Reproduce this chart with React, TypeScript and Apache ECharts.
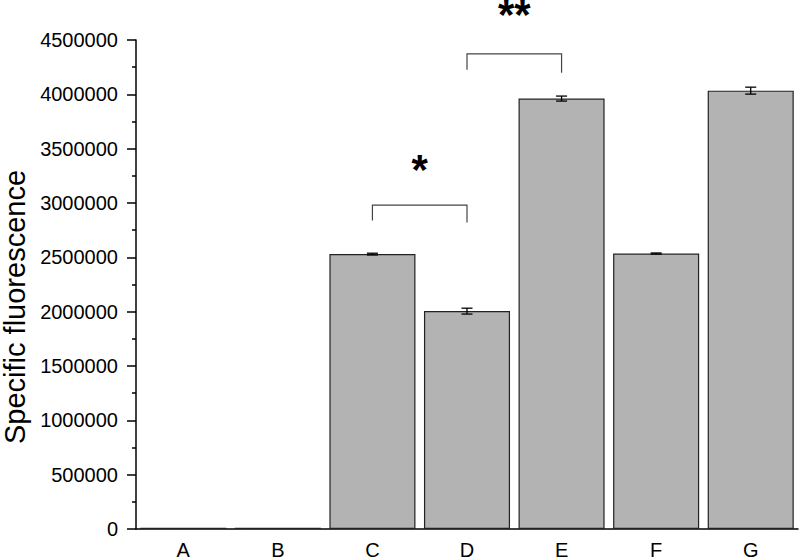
import React, { useEffect, useRef } from "react";
import * as echarts from "echarts";

const categories = ["A", "B", "C", "D", "E", "F", "G"];
const values = [12000, 12000, 2530000, 2005000, 3961000, 2535000, 4034000];
const errors = [0, 0, 8000, 27000, 23000, 5000, 32000];
const yTicksMax = 4500000;
const yInterval = 500000;
// brackets: [leftCategoryIndex, rightCategoryIndex, topValue, leftLegEnd, rightLegEnd]
const brackets = [
  [2, 3, 2980000, 2840000, 2820000],
  [3, 4, 4372000, 4226000, 4199000],
];
// significance labels: [leftCategoryIndex, rightCategoryIndex, value]
const sigPositions = [
  [2, 3, 3304000],
  [3, 4, 4735000],
];
const sigLabels = ["*", "**"];
const yAxisTitle = "Specific fluorescence";

const FONT = "'Liberation Sans', Arial, Helvetica, sans-serif";

export default function App() {
  const ref = useRef<HTMLDivElement>(null);
  useEffect(() => {
    if (!ref.current) return;
    const chart = echarts.init(ref.current, undefined, { renderer: "svg" });
    chart.setOption({
      animation: false,
      backgroundColor: "#fff",
      grid: { left: 136, right: 2, top: 40, bottom: 27, containLabel: false },
      xAxis: {
        type: "category",
        data: categories,
        boundaryGap: true,
        axisLine: { show: true, lineStyle: { color: "#000", width: 1.5 } },
        axisTick: { show: false },
        axisLabel: { fontSize: 20, color: "#000", margin: 11, fontFamily: FONT },
        splitLine: { show: false },
      },
      yAxis: {
        type: "value",
        min: 0,
        max: yTicksMax,
        interval: yInterval,
        axisLine: { show: true, lineStyle: { color: "#000", width: 1.5 } },
        axisTick: { show: true, length: 9, lineStyle: { color: "#000", width: 1.5 } },
        minorTick: { show: true, splitNumber: 2, length: 4, lineStyle: { color: "#000", width: 1.5 } },
        axisLabel: {
          fontSize: 20,
          color: "#000",
          margin: 18,
          fontFamily: FONT,
          formatter: (v: number) => String(v),
        },
        splitLine: { show: false },
        minorSplitLine: { show: false },
      },
      graphic: [
        {
          type: "text",
          x: 15,
          y: 307,
          rotation: Math.PI / 2,
          style: {
            text: yAxisTitle,
            font: `29px ${FONT}`,
            fill: "#000",
            textAlign: "center",
            textVerticalAlign: "middle",
          },
        },
      ],
      series: [
        {
          type: "bar",
          data: values,
          barCategoryGap: "9%",
          itemStyle: { color: "#b3b3b3", borderColor: "#222", borderWidth: 1.2 },
        },
        {
          type: "custom",
          data: values.map((v, i) => [i, v, errors[i]]),
          z: 10,
          renderItem: (params: any, api: any) => {
            const i = api.value(0);
            const v = api.value(1);
            const e = api.value(2);
            if (!e) return null;
            const top = api.coord([i, v + e]);
            const bot = api.coord([i, v - e]);
            const hw = 5.5;
            const style = { stroke: "#000", lineWidth: 1.3 };
            return {
              type: "group",
              children: [
                { type: "line", shape: { x1: top[0], y1: top[1], x2: bot[0], y2: bot[1] }, style },
                { type: "line", shape: { x1: top[0] - hw, y1: top[1], x2: top[0] + hw, y2: top[1] }, style },
                { type: "line", shape: { x1: bot[0] - hw, y1: bot[1], x2: bot[0] + hw, y2: bot[1] }, style },
              ],
            };
          },
        },
        {
          type: "custom",
          data: brackets,
          clip: false,
          renderItem: (params: any, api: any) => {
            const a = api.coord([api.value(0), api.value(2)]);
            const b = api.coord([api.value(1), api.value(2)]);
            const la = api.coord([api.value(0), api.value(3)]);
            const rb = api.coord([api.value(1), api.value(4)]);
            return {
              type: "polyline",
              shape: { points: [[la[0], la[1]], [a[0], a[1]], [b[0], b[1]], [rb[0], rb[1]]] },
              style: { stroke: "#444", lineWidth: 1.2, fill: null },
            };
          },
        },
        {
          type: "custom",
          data: sigPositions,
          clip: false,
          renderItem: (params: any, api: any) => {
            const a = api.coord([api.value(0), api.value(2)]);
            const b = api.coord([api.value(1), api.value(2)]);
            return {
              type: "text",
              x: (a[0] + b[0]) / 2,
              y: a[1],
              style: {
                text: sigLabels[params.dataIndex],
                font: `bold 42px ${FONT}`,
                fill: "#000",
                textAlign: "center",
                textVerticalAlign: "middle",
              },
            };
          },
        },
      ],
    });
    return () => chart.dispose();
  }, []);
  return <div ref={ref} style={{ width: 800, height: 560, position: "absolute", left: 0, top: 0 }} />;
}
